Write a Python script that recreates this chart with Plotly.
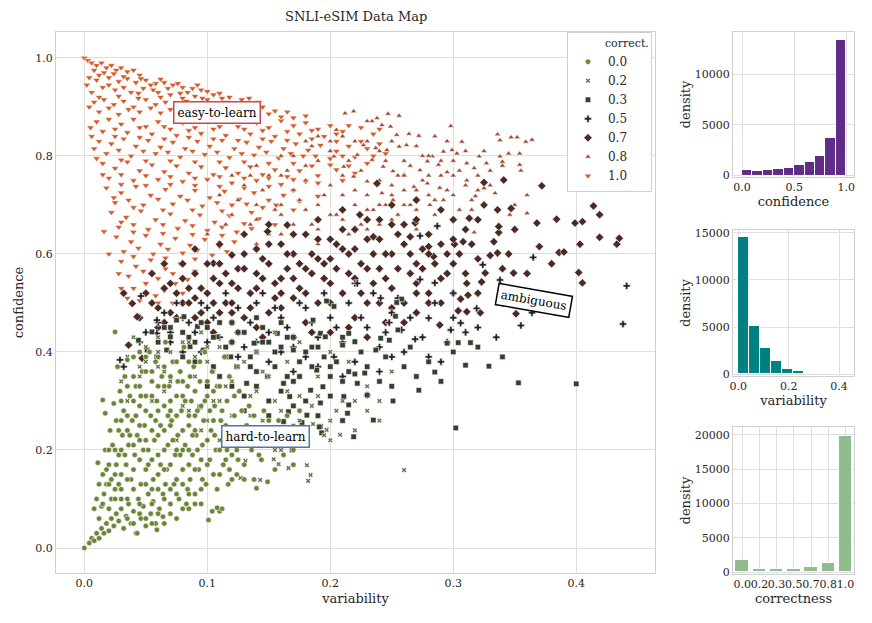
import plotly.graph_objects as go

# ---- data map points (variability, confidence) per correctness level ----
pts_00 = [(0.0,0.0),(0.004,0.01),(0.006,0.02),(0.008,0.015),(0.01,0.03),(0.012,0.02),(0.014,0.04),(0.016,0.03),
    (0.018,0.05),(0.02,0.035),(0.022,0.06),(0.024,0.045),(0.026,0.07),(0.028,0.055),(0.03,0.08),(0.032,0.04),
    (0.034,0.065),(0.036,0.09),(0.038,0.05),(0.04,0.075),(0.042,0.03),(0.044,0.1),(0.046,0.06),(0.048,0.085),
    (0.05,0.045),(0.052,0.11),(0.054,0.07),(0.056,0.095),(0.058,0.05),(0.06,0.12),
    (0.008,0.08),(0.01,0.1),(0.011,0.174),(0.012,0.13),(0.014,0.085),(0.015,0.15),(0.016,0.11),(0.017,0.2),
    (0.018,0.13),(0.02,0.17),(0.021,0.24),(0.022,0.1),(0.023,0.21),(0.024,0.295),(0.025,0.15),(0.026,0.26),
    (0.027,0.37),(0.028,0.19),(0.029,0.32),(0.03,0.12),(0.031,0.23),(0.032,0.28),(0.033,0.35),(0.034,0.17),
    (0.035,0.384),(0.036,0.21),(0.037,0.31),(0.038,0.14),(0.039,0.26),(0.04,0.39),(0.041,0.19),(0.042,0.33),
    (0.043,0.23),(0.025,0.441),(0.045,0.29),(0.046,0.13),(0.047,0.36),(0.048,0.2),(0.049,0.25),(0.05,0.31),
    (0.052,0.17),(0.053,0.4),(0.054,0.27),(0.055,0.34),(0.056,0.14),(0.057,0.22),(0.058,0.38),(0.059,0.3),
    (0.06,0.19),(0.061,0.08),(0.062,0.25),(0.063,0.35),(0.064,0.11),(0.065,0.29),(0.066,0.42),(0.067,0.16),
    (0.068,0.21),(0.069,0.33),(0.07,0.07),(0.071,0.26),(0.072,0.38),(0.073,0.13),(0.074,0.19),(0.075,0.31),
    (0.076,0.23),(0.077,0.1),(0.078,0.36),(0.079,0.28),(0.08,0.16),(0.081,0.41),(0.082,0.21),(0.083,0.09),
    (0.084,0.33),(0.085,0.25),(0.086,0.14),(0.087,0.3),(0.088,0.19),(0.089,0.37),(0.09,0.11),(0.091,0.23),
    (0.092,0.28),(0.093,0.16),(0.094,0.34),(0.095,0.09),(0.096,0.21),(0.097,0.26),(0.098,0.4),(0.099,0.13),
    (0.1,0.31),(0.101,0.057),(0.102,0.18),(0.103,0.24),(0.104,0.36),(0.105,0.15),(0.106,0.29),(0.107,0.2),
    (0.108,0.33),(0.11,0.075),(0.111,0.26),(0.112,0.08),(0.113,0.17),(0.114,0.39),(0.115,0.22),(0.116,0.3),
    (0.117,0.13),(0.118,0.35),(0.12,0.19),(0.122,0.27),(0.124,0.15),(0.126,0.32),(0.128,0.22),(0.13,0.17),
    (0.132,0.25),(0.134,0.29),(0.136,0.2),(0.138,0.14),(0.14,0.122),(0.142,0.24),(0.144,0.18),(0.146,0.28),
    (0.149,0.135),(0.152,0.21),(0.155,0.16),(0.158,0.26),(0.162,0.19),(0.166,0.23),(0.17,0.17),(0.175,0.28),
    (0.18,0.21),(0.03,0.15),(0.035,0.1),(0.04,0.12),(0.045,0.18),(0.05,0.22),(0.055,0.12),(0.06,0.28),
    (0.065,0.2),(0.07,0.17),(0.075,0.14),(0.08,0.24),(0.085,0.2),(0.09,0.27),(0.095,0.18),(0.1,0.22),
    (0.105,0.26),(0.11,0.2),(0.115,0.25),(0.12,0.23),(0.065,0.24),(0.07,0.3),(0.075,0.27),(0.045,0.25),
    (0.05,0.28),(0.055,0.24),(0.06,0.33),(0.04,0.3),(0.035,0.27),(0.08,0.34),(0.085,0.38),(0.09,0.32),
    (0.07,0.35),(0.065,0.37),(0.055,0.31),(0.05,0.36),(0.045,0.33),(0.03,0.2),(0.025,0.2),(0.02,0.13),
    (0.04,0.16),(0.045,0.07),(0.05,0.13),(0.055,0.09),(0.06,0.15),(0.065,0.05),(0.07,0.12),(0.075,0.06),
    (0.08,0.13),(0.085,0.08),(0.09,0.16),(0.104,0.075),(0.108,0.082),(0.015,0.302),(0.017,0.275),
    (0.064,0.064),(0.059,0.037),(0.043,0.03),
    (0.02,0.08),(0.025,0.1),(0.028,0.13),(0.033,0.19),(0.037,0.23),(0.042,0.27),(0.046,0.31),(0.05,0.39),
    (0.052,0.2),(0.058,0.26),(0.062,0.17),(0.066,0.13),(0.068,0.27),(0.072,0.22),(0.076,0.34),(0.078,0.19),
    (0.082,0.3),(0.084,0.12),(0.086,0.35),(0.088,0.23),(0.092,0.2),(0.094,0.38),(0.096,0.14),(0.098,0.3),
    (0.1,0.17),(0.102,0.28),(0.106,0.23),(0.108,0.12),(0.11,0.33),(0.112,0.28),(0.116,0.2),(0.118,0.16),
    (0.122,0.31),(0.124,0.2),(0.126,0.24),(0.128,0.28),(0.13,0.14),(0.134,0.21),(0.138,0.27),(0.142,0.19),
    (0.146,0.22),(0.15,0.26),(0.154,0.24),(0.16,0.22),(0.165,0.27),(0.17,0.2),(0.06,0.07),(0.065,0.1),
    (0.07,0.09),(0.075,0.11),(0.08,0.08),(0.085,0.11),(0.09,0.09),(0.095,0.12),(0.05,0.06),(0.055,0.05),
    (0.04,0.05),(0.035,0.06),(0.045,0.09),(0.03,0.1),(0.025,0.12),(0.035,0.14),(0.03,0.26),(0.035,0.33),
    (0.04,0.35),(0.045,0.4),(0.055,0.36),(0.06,0.39),(0.065,0.33),(0.07,0.28),(0.075,0.38),(0.08,0.31),
    (0.085,0.27),(0.09,0.24),(0.095,0.29),(0.1,0.34),(0.105,0.32),(0.11,0.15),(0.115,0.18),(0.12,0.14),
    (0.125,0.18),(0.085,0.17),(0.08,0.2),(0.075,0.2),(0.07,0.25),(0.065,0.16),(0.06,0.23),(0.055,0.18),
    (0.05,0.16),(0.045,0.22),(0.04,0.21),(0.035,0.24),(0.02,0.2),(0.018,0.16),(0.015,0.09),(0.012,0.06),
    (0.022,0.14),(0.026,0.17),(0.03,0.3),(0.028,0.24)]

pts_02 = [(0.03,0.34),(0.035,0.39),(0.04,0.43),(0.045,0.37),(0.05,0.41),(0.055,0.3),(0.06,0.43),(0.065,0.32),
    (0.07,0.4),(0.075,0.22),(0.08,0.29),(0.085,0.42),(0.09,0.35),(0.095,0.24),(0.1,0.38),(0.105,0.3),
    (0.11,0.41),(0.115,0.33),(0.12,0.27),(0.125,0.37),(0.13,0.22),(0.135,0.31),(0.14,0.4),(0.145,0.26),
    (0.15,0.35),(0.155,0.3),(0.16,0.2),(0.165,0.38),(0.17,0.25),(0.175,0.31),(0.19,0.35),(0.195,0.23),
    (0.205,0.28),(0.215,0.38),(0.22,0.3),(0.23,0.33),(0.24,0.26),(0.26,0.159),(0.25,0.36),(0.12,0.19),
    (0.155,0.2),(0.11,0.22),(0.1,0.26),(0.085,0.28),(0.07,0.34),(0.06,0.37),(0.095,0.44),(0.155,0.44),
    (0.175,0.42),(0.2,0.4),(0.186,0.253),(0.197,0.241),(0.2,0.22),(0.208,0.231),(0.181,0.169),(0.184,0.149),
    (0.182,0.137),(0.166,0.163),(0.158,0.171),(0.154,0.181),(0.131,0.178),(0.127,0.143),(0.143,0.139),
    (0.035,0.3),(0.045,0.35),(0.05,0.38),(0.06,0.4),(0.065,0.36),(0.075,0.38),(0.08,0.42),(0.09,0.39),
    (0.1,0.41),(0.105,0.36),(0.11,0.3),(0.12,0.34),(0.13,0.38),(0.135,0.27),(0.14,0.32),(0.145,0.36),
    (0.15,0.24),(0.16,0.28),(0.165,0.32),(0.17,0.22),(0.175,0.26),(0.185,0.29),(0.19,0.31),(0.2,0.26),
    (0.21,0.3),(0.22,0.24),(0.23,0.28),(0.24,0.3),(0.16,0.23),(0.14,0.21)]

pts_03 = [(0.044,0.424),(0.055,0.441),(0.075,0.465),(0.081,0.472),(0.092,0.452),(0.108,0.431),(0.119,0.39),
    (0.138,0.418),(0.157,0.438),(0.17,0.404),(0.189,0.363),(0.194,0.329),(0.211,0.309),(0.222,0.336),
    (0.228,0.357),(0.237,0.404),(0.235,0.261),(0.219,0.227),(0.214,0.275),(0.192,0.296),(0.184,0.322),
    (0.167,0.309),(0.162,0.336),(0.149,0.35),(0.132,0.336),(0.124,0.37),(0.105,0.37),(0.097,0.404),
    (0.086,0.411),(0.07,0.431),(0.067,0.404),(0.059,0.39),(0.051,0.404),(0.094,0.288),(0.166,0.278),
    (0.192,0.248),(0.181,0.271),(0.162,0.258),(0.169,0.2),(0.177,0.256),(0.191,0.247),(0.193,0.235),
    (0.295,0.418),(0.304,0.419),(0.314,0.419),(0.258,0.508),(0.254,0.501),(0.253,0.473),(0.241,0.428),
    (0.248,0.424),(0.255,0.445),(0.197,0.504),(0.203,0.493),(0.215,0.438),(0.21,0.414),(0.22,0.421),
    (0.186,0.465),(0.192,0.438),(0.196,0.431),(0.285,0.359),(0.31,0.373),(0.329,0.371),(0.353,0.337),
    (0.4,0.335),(0.302,0.245),(0.251,0.3),(0.23,0.312),(0.215,0.292),(0.272,0.322),(0.22,0.355),
    (0.065,0.45),(0.085,0.43),(0.1,0.45),(0.115,0.41),(0.125,0.44),(0.135,0.39),(0.145,0.42),(0.155,0.4),
    (0.165,0.43),(0.175,0.38),(0.185,0.41),(0.2,0.37),(0.21,0.34),(0.14,0.36),(0.11,0.35),(0.09,0.38),
    (0.13,0.31),(0.15,0.3),(0.17,0.34),(0.12,0.46),(0.14,0.47),(0.16,0.46),(0.08,0.39),(0.1,0.33),
    (0.06,0.42),(0.07,0.45),(0.08,0.44),(0.09,0.42),(0.095,0.46),(0.105,0.43),(0.11,0.46),(0.115,0.39),
    (0.12,0.42),(0.13,0.44),(0.135,0.37),(0.14,0.4),(0.145,0.45),(0.15,0.42),(0.155,0.37),(0.16,0.41),
    (0.165,0.35),(0.17,0.43),(0.175,0.35),(0.18,0.4),(0.185,0.37),(0.19,0.41),(0.195,0.39),(0.2,0.35),
    (0.205,0.38),(0.21,0.43),(0.215,0.36),(0.225,0.4),(0.23,0.37),(0.24,0.34),(0.245,0.39),(0.25,0.33),
    (0.26,0.37),(0.265,0.41),(0.27,0.35),(0.28,0.38),(0.29,0.34),(0.3,0.4),(0.32,0.41),(0.34,0.39),
    (0.12,0.33),(0.14,0.33),(0.16,0.32),(0.18,0.3),(0.2,0.31),(0.13,0.28),(0.15,0.27),(0.17,0.29),
    (0.19,0.27),(0.21,0.26)]

pts_05 = [(0.441,0.535),(0.438,0.457),(0.365,0.593),(0.338,0.547),(0.324,0.578),(0.355,0.454),(0.364,0.48),
    (0.319,0.489),(0.306,0.459),(0.28,0.469),(0.285,0.541),(0.273,0.548),(0.298,0.445),(0.269,0.426),
    (0.258,0.445),(0.248,0.46),(0.241,0.51),(0.273,0.637),(0.287,0.657),
    (0.06,0.46),(0.07,0.42),(0.08,0.47),(0.09,0.44),(0.1,0.49),(0.11,0.43),(0.12,0.46),(0.13,0.41),
    (0.14,0.5),(0.15,0.44),(0.16,0.47),(0.17,0.41),(0.18,0.49),(0.19,0.43),(0.2,0.47),(0.21,0.42),
    (0.22,0.54),(0.23,0.45),(0.24,0.41),(0.25,0.48),(0.203,0.39),(0.23,0.312),(0.21,0.35),(0.26,0.4),
    (0.029,0.384),(0.032,0.37),(0.059,0.438),(0.046,0.514),(0.059,0.465),(0.222,0.54),(0.15,0.38),
    (0.17,0.36),(0.19,0.37),(0.24,0.36),(0.28,0.39),(0.3,0.47),(0.31,0.44),(0.095,0.4),(0.125,0.39),
    (0.065,0.48),(0.075,0.5),(0.085,0.46),(0.095,0.5),(0.105,0.47),(0.115,0.52),(0.125,0.49),(0.135,0.46),
    (0.145,0.52),(0.155,0.49),(0.165,0.45),(0.175,0.5),(0.185,0.46),(0.195,0.52),(0.205,0.45),(0.215,0.5),
    (0.225,0.47),(0.235,0.52),(0.245,0.44),(0.255,0.51),(0.265,0.47),(0.275,0.43),(0.285,0.5),(0.295,0.42),
    (0.3,0.52),(0.32,0.45),(0.34,0.5),(0.29,0.38),(0.25,0.39),(0.22,0.38),(0.18,0.39),(0.16,0.4),
    (0.14,0.42),(0.12,0.42),(0.1,0.42),(0.08,0.4),(0.07,0.44),(0.05,0.44),(0.045,0.42),(0.335,0.43)]

pts_07 = [(0.372,0.739),(0.414,0.698),(0.419,0.68),(0.384,0.671),(0.405,0.666),(0.399,0.663),(0.368,0.663),
    (0.419,0.634),(0.435,0.632),(0.433,0.62),(0.403,0.62),(0.37,0.615),(0.386,0.603),(0.39,0.604),
    (0.345,0.6),(0.336,0.602),(0.33,0.597),(0.333,0.625),(0.337,0.644),(0.337,0.656),(0.336,0.69),
    (0.325,0.7),(0.347,0.693),(0.341,0.751),(0.325,0.746),(0.313,0.673),(0.308,0.625),(0.301,0.62),
    (0.295,0.6),(0.284,0.595),(0.28,0.615),(0.349,0.561),(0.326,0.561),(0.323,0.543),(0.311,0.54),
    (0.402,0.562),(0.405,0.541),(0.312,0.516),(0.306,0.508),(0.304,0.484),(0.311,0.482),(0.322,0.48),
    (0.351,0.478),(0.289,0.455),(0.27,0.52),(0.265,0.635),(0.269,0.663),(0.238,0.744),(0.224,0.68),
    (0.165,0.659),(0.149,0.646),(0.12,0.598),(0.105,0.581),(0.235,0.635),
    (0.05,0.52),(0.06,0.49),(0.07,0.54),(0.08,0.5),(0.09,0.56),(0.1,0.52),(0.11,0.58),(0.12,0.54),
    (0.13,0.6),(0.14,0.56),(0.15,0.62),(0.16,0.55),(0.17,0.6),(0.18,0.57),(0.19,0.63),(0.2,0.59),
    (0.21,0.65),(0.22,0.61),(0.23,0.57),(0.24,0.63),(0.25,0.6),(0.26,0.66),(0.27,0.58),(0.28,0.64),
    (0.29,0.55),(0.075,0.47),(0.085,0.53),(0.095,0.48),(0.105,0.55),(0.115,0.5),(0.125,0.57),(0.135,0.52),
    (0.145,0.59),(0.155,0.51),(0.165,0.57),(0.175,0.53),(0.185,0.6),(0.195,0.55),(0.205,0.62),(0.215,0.56),
    (0.225,0.52),(0.235,0.6),(0.245,0.55),(0.255,0.64),(0.265,0.56),(0.275,0.61),(0.1,0.46),(0.12,0.48),
    (0.14,0.45),(0.16,0.49),(0.18,0.46),(0.2,0.5),(0.22,0.47),(0.24,0.5),(0.26,0.46),(0.28,0.52),
    (0.3,0.58),(0.31,0.56),(0.13,0.64),(0.15,0.66),(0.17,0.64),(0.19,0.67),(0.21,0.69),(0.23,0.67),
    (0.25,0.7),(0.27,0.67),(0.2,0.44),(0.17,0.43),(0.23,0.43),(0.25,0.49),(0.06,0.45),(0.055,0.56),
    (0.065,0.58),(0.08,0.58),(0.09,0.61),(0.11,0.62),(0.045,0.47),(0.036,0.414),(0.047,0.387),
    (0.039,0.499),(0.043,0.472),(0.032,0.52),
    (0.055,0.5),(0.065,0.53),(0.07,0.48),(0.08,0.55),(0.085,0.5),(0.09,0.47),(0.095,0.53),(0.1,0.58),
    (0.105,0.5),(0.11,0.54),(0.115,0.56),(0.12,0.5),(0.125,0.53),(0.13,0.57),(0.135,0.49),(0.14,0.53),
    (0.145,0.55),(0.15,0.58),(0.155,0.54),(0.16,0.52),(0.165,0.6),(0.17,0.55),(0.175,0.58),(0.18,0.52),
    (0.185,0.56),(0.19,0.5),(0.195,0.58),(0.2,0.54),(0.205,0.57),(0.21,0.52),(0.215,0.6),(0.22,0.55),
    (0.225,0.58),(0.23,0.5),(0.235,0.54),(0.24,0.57),(0.245,0.6),(0.25,0.53),(0.255,0.57),(0.26,0.5),
    (0.265,0.6),(0.27,0.54),(0.275,0.57),(0.28,0.5),(0.285,0.58),(0.29,0.62),(0.295,0.56),(0.3,0.52),
    (0.305,0.6),(0.31,0.65),(0.315,0.62),(0.32,0.59),(0.14,0.61),(0.16,0.62),(0.18,0.64),(0.2,0.63),
    (0.22,0.65),(0.24,0.67),(0.26,0.62),(0.28,0.6),(0.3,0.63),(0.3,0.67),(0.29,0.69),(0.27,0.71),
    (0.25,0.66),(0.23,0.63),(0.21,0.61),(0.19,0.59),(0.17,0.51),(0.15,0.48),(0.13,0.47),(0.11,0.48),
    (0.09,0.51),(0.075,0.52),(0.065,0.46),(0.105,0.44),(0.125,0.44),(0.145,0.43),(0.185,0.44),(0.215,0.45),
    (0.245,0.46),(0.27,0.48),(0.29,0.5),(0.32,0.52),(0.34,0.57),(0.36,0.56),(0.38,0.58),(0.35,0.65),
    (0.32,0.67)]

pts_08 = [(0.336,0.844),(0.338,0.832),(0.347,0.838),(0.352,0.838),(0.359,0.829),(0.364,0.833),(0.354,0.805),
    (0.345,0.805),(0.338,0.799),(0.34,0.788),(0.354,0.782),(0.327,0.785),(0.321,0.799),(0.311,0.785),
    (0.317,0.775),(0.311,0.75),(0.318,0.718),(0.315,0.71),(0.325,0.734),(0.334,0.724),(0.346,0.68),
    (0.36,0.683),(0.317,0.644),(0.307,0.829),(0.298,0.861),(0.292,0.809),(0.299,0.812),(0.303,0.805),
    (0.295,0.767),(0.288,0.782),(0.283,0.799),(0.279,0.789),(0.272,0.841),(0.264,0.845),(0.256,0.882),
    (0.247,0.886),(0.238,0.877),(0.234,0.871),(0.242,0.863),(0.249,0.86),(0.254,0.843),(0.262,0.822),
    (0.256,0.819),(0.246,0.812),(0.237,0.816),(0.227,0.822),(0.222,0.802),(0.234,0.792),(0.243,0.778),
    (0.251,0.769),(0.26,0.762),(0.273,0.771),(0.268,0.737),(0.279,0.744),(0.289,0.735),(0.292,0.71),
    (0.281,0.7),(0.251,0.71),(0.242,0.724),(0.23,0.748),(0.219,0.758),(0.211,0.778),(0.203,0.799),
    (0.205,0.853),(0.212,0.887),(0.219,0.891),(0.23,0.871),
    (0.13,0.74),(0.14,0.7),(0.15,0.76),(0.16,0.68),(0.17,0.73),(0.18,0.78),(0.185,0.66),(0.19,0.7),
    (0.2,0.74),(0.205,0.68),(0.21,0.72),(0.215,0.64),(0.22,0.7),(0.225,0.66),(0.23,0.72),(0.235,0.69),
    (0.24,0.66),(0.245,0.7),(0.25,0.74),(0.255,0.68),(0.26,0.73),(0.265,0.7),(0.27,0.69),(0.275,0.75),
    (0.28,0.72),(0.285,0.68),(0.29,0.76),(0.295,0.73),(0.3,0.79),(0.305,0.69),(0.31,0.74),(0.12,0.68),
    (0.11,0.72),(0.1,0.64),(0.14,0.62),(0.16,0.64),(0.17,0.6),(0.19,0.62),(0.2,0.81),(0.18,0.83),
    (0.16,0.8),(0.22,0.83),(0.24,0.81),(0.26,0.79),(0.28,0.8),(0.3,0.76),(0.32,0.76),(0.33,0.74),
    (0.35,0.7),(0.36,0.72),(0.355,0.77),(0.34,0.78),
    (0.125,0.71),(0.135,0.76),(0.145,0.73),(0.155,0.69),(0.165,0.77),(0.175,0.71),(0.18,0.75),(0.19,0.79),
    (0.195,0.72),(0.2,0.68),(0.21,0.76),(0.215,0.79),(0.22,0.73),(0.225,0.77),(0.23,0.69),(0.24,0.75),
    (0.245,0.79),(0.25,0.72),(0.255,0.76),(0.26,0.7),(0.265,0.78),(0.27,0.73),(0.275,0.8),(0.28,0.76),
    (0.285,0.71),(0.29,0.79),(0.295,0.83),(0.3,0.72),(0.305,0.77),(0.31,0.81),(0.315,0.69),(0.32,0.73),
    (0.325,0.81),(0.33,0.77),(0.15,0.64),(0.17,0.66),(0.19,0.65),(0.21,0.67),(0.23,0.65),(0.25,0.67),
    (0.27,0.65),(0.14,0.67),(0.2,0.83),(0.21,0.84),(0.23,0.83),(0.25,0.83),(0.27,0.82),(0.285,0.84),
    (0.185,0.82),(0.17,0.8),(0.19,0.84),(0.16,0.76),(0.14,0.78),(0.12,0.76),(0.115,0.66),(0.135,0.66),
    (0.16,0.7),(0.18,0.69),(0.26,0.76),(0.24,0.7)]

pts_10 = [(0.0,1.0),(0.003,0.995),(0.006,0.99),(0.01,0.985),(0.014,0.99),(0.018,0.98),(0.022,0.985),
    (0.026,0.975),(0.03,0.98),(0.035,0.972),(0.04,0.975),(0.008,0.975),(0.016,0.97),(0.045,0.965),
    (0.004,0.96),(0.01,0.955),(0.02,0.96),(0.028,0.952),(0.035,0.958),(0.042,0.95),(0.05,0.955),
    (0.058,0.948),(0.065,0.95),(0.072,0.945),(0.08,0.94),(0.088,0.938),(0.095,0.935),(0.015,0.94),
    (0.025,0.935),(0.038,0.93),(0.048,0.938),(0.06,0.93),(0.07,0.925),(0.006,0.93),(0.1,0.932),(0.105,0.925),
    (0.008,0.91),(0.016,0.915),(0.024,0.905),(0.032,0.912),(0.04,0.9),(0.05,0.915),(0.058,0.905),
    (0.066,0.91),(0.075,0.9),(0.083,0.912),(0.092,0.9),(0.1,0.915),(0.108,0.905),(0.115,0.91),(0.123,0.9),
    (0.13,0.905),(0.138,0.895),(0.145,0.9),(0.012,0.89),(0.028,0.885),(0.045,0.89),(0.062,0.888),
    (0.078,0.885),(0.095,0.89),(0.11,0.885),(0.126,0.888),(0.15,0.886),(0.155,0.892),
    (0.01,0.87),(0.02,0.875),(0.03,0.865),(0.04,0.875),(0.05,0.86),(0.06,0.87),(0.07,0.855),(0.08,0.868),
    (0.09,0.858),(0.1,0.872),(0.11,0.86),(0.12,0.87),(0.13,0.855),(0.14,0.868),(0.15,0.858),(0.16,0.872),
    (0.17,0.862),(0.18,0.868),(0.19,0.855),(0.2,0.862),(0.21,0.85),(0.225,0.858),(0.015,0.85),(0.035,0.848),
    (0.055,0.845),(0.075,0.842),(0.095,0.846),(0.115,0.842),(0.135,0.845),(0.155,0.84),(0.175,0.845),
    (0.195,0.84),(0.012,0.83),(0.022,0.825),(0.032,0.835),(0.042,0.82),(0.052,0.832),(0.062,0.818),
    (0.072,0.828),(0.082,0.815),(0.092,0.83),(0.102,0.82),(0.112,0.832),(0.122,0.815),(0.132,0.828),
    (0.142,0.818),(0.152,0.83),(0.162,0.815),(0.172,0.825),(0.182,0.812),(0.192,0.822),(0.205,0.81),
    (0.215,0.82),(0.23,0.815),(0.245,0.805),(0.018,0.805),(0.038,0.8),(0.058,0.805),(0.078,0.798),
    (0.098,0.803),(0.118,0.797),(0.138,0.802),(0.158,0.796),(0.178,0.8),(0.2,0.795),(0.22,0.798),
    (0.015,0.785),(0.025,0.775),(0.035,0.788),(0.045,0.77),(0.055,0.782),(0.065,0.768),(0.075,0.78),
    (0.085,0.765),(0.095,0.778),(0.105,0.762),(0.115,0.776),(0.125,0.765),(0.135,0.778),(0.145,0.762),
    (0.155,0.772),(0.165,0.758),(0.175,0.77),(0.19,0.76),(0.205,0.772),(0.22,0.765),(0.02,0.755),
    (0.04,0.75),(0.06,0.752),(0.08,0.748),(0.1,0.752),(0.12,0.745),(0.14,0.75),(0.16,0.742),(0.18,0.748),
    (0.018,0.735),(0.03,0.725),(0.042,0.738),(0.054,0.72),(0.066,0.732),(0.078,0.718),(0.09,0.73),
    (0.102,0.715),(0.114,0.728),(0.126,0.712),(0.138,0.725),(0.15,0.71),(0.162,0.72),(0.175,0.708),
    (0.19,0.718),(0.025,0.705),(0.048,0.7),(0.072,0.702),(0.096,0.698),(0.12,0.7),(0.145,0.695),
    (0.022,0.685),(0.034,0.675),(0.046,0.688),(0.058,0.67),(0.07,0.682),(0.082,0.668),(0.094,0.68),
    (0.106,0.665),(0.118,0.678),(0.13,0.662),(0.142,0.672),(0.155,0.66),(0.028,0.655),(0.052,0.65),
    (0.076,0.652),(0.1,0.648),(0.124,0.645),(0.026,0.635),(0.038,0.625),(0.05,0.638),(0.062,0.62),
    (0.074,0.632),(0.086,0.618),(0.098,0.63),(0.11,0.615),(0.122,0.625),(0.032,0.605),(0.056,0.6),
    (0.08,0.602),(0.104,0.598),(0.03,0.585),(0.042,0.575),(0.054,0.588),(0.066,0.57),(0.078,0.58),
    (0.09,0.565),(0.036,0.555),(0.06,0.55),(0.084,0.548),(0.04,0.53),(0.05,0.52),(0.065,0.525),
    (0.045,0.505),(0.035,0.51),(0.072,0.5),(0.028,0.56),(0.006,0.84),(0.016,0.646),(0.02,0.6),
    (0.012,0.965),(0.024,0.968),(0.032,0.962),(0.046,0.958),(0.054,0.945),(0.062,0.957),(0.076,0.948),
    (0.084,0.93),(0.092,0.945),(0.11,0.928),(0.118,0.92),(0.002,0.945),(0.02,0.945),(0.032,0.94),
    (0.044,0.928),(0.056,0.935),(0.068,0.938),(0.078,0.928),(0.09,0.922),(0.112,0.918),
    (0.004,0.9),(0.02,0.898),(0.036,0.895),(0.054,0.898),(0.07,0.895),(0.088,0.893),(0.104,0.896),
    (0.12,0.89),(0.134,0.885),(0.142,0.91),(0.16,0.88),(0.17,0.878),(0.165,0.89),(0.18,0.882),(0.012,0.92),
    (0.028,0.922),(0.044,0.918),(0.062,0.92),(0.08,0.918),(0.096,0.918),(0.128,0.915),(0.134,0.918),
    (0.005,0.858),(0.025,0.855),(0.045,0.858),(0.065,0.86),(0.085,0.852),(0.105,0.855),(0.125,0.86),
    (0.145,0.852),(0.165,0.85),(0.185,0.852),(0.205,0.845),(0.215,0.862),(0.235,0.845),(0.24,0.855),
    (0.008,0.815),(0.028,0.812),(0.048,0.81),(0.068,0.808),(0.088,0.81),(0.108,0.808),(0.128,0.805),
    (0.148,0.808),(0.168,0.805),(0.188,0.8),(0.21,0.8),(0.235,0.8),(0.025,0.84),(0.045,0.838),(0.065,0.835),
    (0.085,0.838),(0.105,0.835),(0.125,0.832),(0.145,0.835),(0.165,0.832),(0.185,0.835),(0.205,0.83),
    (0.225,0.83),(0.24,0.825),(0.01,0.795),(0.03,0.792),(0.05,0.79),(0.07,0.79),(0.09,0.788),(0.11,0.788),
    (0.13,0.788),(0.15,0.785),(0.17,0.785),(0.185,0.78),(0.2,0.782),(0.215,0.78),(0.23,0.785),(0.03,0.762),
    (0.05,0.76),(0.07,0.758),(0.09,0.755),(0.11,0.758),(0.13,0.755),(0.15,0.755),(0.17,0.752),(0.19,0.745),
    (0.21,0.75),(0.015,0.762),(0.03,0.742),(0.05,0.74),(0.07,0.742),(0.09,0.74),(0.11,0.738),(0.13,0.735),
    (0.15,0.738),(0.17,0.73),(0.024,0.715),(0.036,0.71),(0.06,0.712),(0.084,0.71),(0.108,0.705),
    (0.132,0.702),(0.156,0.7),(0.17,0.69),(0.04,0.695),(0.064,0.69),(0.088,0.69),(0.112,0.688),(0.136,0.685),
    (0.03,0.665),(0.04,0.66),(0.064,0.66),(0.088,0.658),(0.112,0.655),(0.136,0.652),(0.04,0.645),
    (0.064,0.642),(0.088,0.64),(0.112,0.638),(0.044,0.612),(0.068,0.61),(0.092,0.608),(0.116,0.605),
    (0.04,0.595),(0.066,0.592),(0.09,0.59),(0.048,0.565),(0.072,0.56),(0.05,0.54),(0.074,0.54),
    (0.058,0.515),(0.08,0.52),(0.06,0.5),(0.03,0.53)]

levels = ["0.0", "0.2", "0.3", "0.5", "0.7", "0.8", "1.0"]
level_points = [pts_00, pts_02, pts_03, pts_05, pts_07, pts_08, pts_10]
level_colors = ["#6b8437", "#5c7040", "#353f2b", "#232323", "#4b2a24", "#a24b2e", "#d35b2b"]
level_symbols = ["circle", "x", "square", "cross", "diamond", "triangle-up", "triangle-down"]
level_sizes = [5.5, 4.5, 5.5, 6, 6.5, 5.5, 6.5]

# ---- histograms on the right ----
conf_edges = [0.0, 0.1, 0.2, 0.3, 0.4, 0.5, 0.6, 0.7, 0.8, 0.9, 1.0]
conf_counts = [553, 494, 553, 652, 750, 1017, 1382, 1935, 3682, 13455]
var_edges = [0.0, 0.0433, 0.0866, 0.1299, 0.1732, 0.2165, 0.2598, 0.3031, 0.3464, 0.3897, 0.433]
var_counts = [14540, 5100, 2730, 1380, 600, 320, 70, 25, 10, 5]
corr_labels = ["0.0", "0.2", "0.3", "0.5", "0.7", "0.8", "1.0"]
corr_counts = [1780, 480, 480, 480, 820, 1350, 19860]

FONT = "DejaVu Serif"
GRID = "#dedede"

fig = go.Figure()

# draw the easy points first so the hard ones sit on top
for i in reversed(range(len(levels))):
    xs = [p[0] for p in level_points[i]]
    ys = [p[1] for p in level_points[i]]
    fig.add_trace(go.Scatter(
        x=xs, y=ys, mode="markers", name=levels[i], legendrank=i + 1,
        marker=dict(color=level_colors[i], symbol=level_symbols[i], size=level_sizes[i],
                    line=dict(color="white", width=0.6)),
        xaxis="x", yaxis="y"))

def centers(edges):
    return [(edges[k] + edges[k + 1]) / 2 for k in range(len(edges) - 1)]

fig.add_trace(go.Bar(x=centers(conf_edges), y=conf_counts, width=conf_edges[1] - conf_edges[0],
                     marker=dict(color="#5f2c86", line=dict(color="white", width=1)),
                     showlegend=False, xaxis="x2", yaxis="y2"))
fig.add_trace(go.Bar(x=centers(var_edges), y=var_counts, width=var_edges[1] - var_edges[0],
                     marker=dict(color="#008080", line=dict(color="white", width=1)),
                     showlegend=False, xaxis="x3", yaxis="y3"))
fig.add_trace(go.Bar(x=corr_labels, y=corr_counts, width=0.78,
                     marker=dict(color="#8fbc8f", line=dict(color="white", width=1)),
                     showlegend=False, xaxis="x4", yaxis="y4"))

axis_common = dict(showgrid=True, gridcolor=GRID, gridwidth=1, showline=True, linecolor="#cfcfcf",
                   linewidth=1, mirror=True, zeroline=False, ticks="", automargin=False,
                   tickfont=dict(family=FONT, size=11, color="#262626"))

def count_ticks(vals):
    return dict(tickvals=vals, ticktext=[str(v) for v in vals])

# the page body adds an 8px margin, so the figure is 16px smaller than the window
fig.update_layout(
    width=856, height=607,
    paper_bgcolor="white", plot_bgcolor="white",
    margin=dict(l=0, r=0, t=0, b=0, autoexpand=False),
    font=dict(family=FONT, size=12, color="#262626"),
    showlegend=True,
    legend=dict(x=0.7523, y=0.9605, xanchor="right", yanchor="top",
                bordercolor="#cfcfcf", borderwidth=1, bgcolor="white",
                title=dict(text="          correct.", font=dict(family=FONT, size=11)),
                font=dict(family=FONT, size=12), itemsizing="trace",
                tracegroupgap=0),
    xaxis=dict(domain=[0.0561, 0.7558], range=[-0.023, 0.464], dtick=0.1, tickformat=".1f",
               title=dict(text="variability", font=dict(size=13), standoff=4), **axis_common),
    yaxis=dict(domain=[0.0692, 0.9605], range=[-0.051, 1.053], dtick=0.2, tickformat=".1f",
               title=dict(text="confidence", font=dict(size=13), standoff=8), **axis_common),
    xaxis2=dict(domain=[0.8470, 0.9883], range=[-0.087, 1.075], tickvals=[0, 0.5, 1.0],
                tickformat=".1f", anchor="y2",
                title=dict(text="confidence", font=dict(size=13), standoff=2), **axis_common),
    yaxis2=dict(domain=[0.7216, 0.9605], range=[-150, 14200], anchor="x2", **count_ticks([0, 5000, 10000]),
                title=dict(text="density", font=dict(size=13), standoff=1), **axis_common),
    xaxis3=dict(domain=[0.8470, 0.9883], range=[-0.021, 0.459], tickvals=[0, 0.2, 0.4],
                tickformat=".1f", anchor="y3",
                title=dict(text="variability", font=dict(size=13), standoff=2), **axis_common),
    yaxis3=dict(domain=[0.3937, 0.6343], range=[-200, 15300], anchor="x3",
                **count_ticks([0, 5000, 10000, 15000]),
                title=dict(text="density", font=dict(size=13), standoff=1), **axis_common),
    xaxis4=dict(domain=[0.8470, 0.9883], range=[-0.53, 6.49], type="category", anchor="y4", tickangle=0,
                title=dict(text="correctness", font=dict(size=13), standoff=2), **axis_common),
    yaxis4=dict(domain=[0.0675, 0.3097], range=[-250, 21150], anchor="x4",
                **count_ticks([0, 5000, 10000, 15000, 20000]),
                title=dict(text="density", font=dict(size=13), standoff=1), **axis_common),
    bargap=0,
)

fig.add_annotation(text="SNLI-eSIM Data Map", xref="paper", yref="paper", x=0.406, y=0.9868,
                   yanchor="middle", showarrow=False, font=dict(family=FONT, size=13, color="#262626"))

# region labels
fig.add_annotation(text="easy-to-learn", x=0.108, y=0.888, xref="x", yref="y", showarrow=False,
                   font=dict(family=FONT, size=12, color="black"), bgcolor="white",
                   bordercolor="#c9474f", borderwidth=1.5, borderpad=3)
fig.add_annotation(text="ambiguous", x=0.366, y=0.506, xref="x", yref="y", showarrow=False,
                   textangle=10, font=dict(family=FONT, size=12, color="black"), bgcolor="white",
                   bordercolor="black", borderwidth=1.5, borderpad=3)
fig.add_annotation(text="hard-to-learn", x=0.147, y=0.227, xref="x", yref="y", showarrow=False,
                   font=dict(family=FONT, size=12, color="black"), bgcolor="white",
                   bordercolor="#4a74bf", borderwidth=1.5, borderpad=3)

fig.write_html("out.html")
